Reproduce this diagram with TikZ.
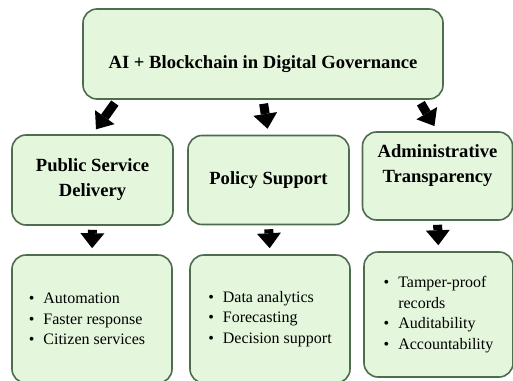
\documentclass[tikz,border=0pt]{standalone}
\usepackage{fontspec}
\setmainfont{Liberation Serif}
\usetikzlibrary{arrows.meta}
\definecolor{boxfill}{RGB}{228,246,220}
\definecolor{boxline}{RGB}{78,108,78}
\tikzset{govbox/.style={draw=boxline, fill=boxfill, line width=1.6pt, rounded corners=14pt, align=center, inner sep=0pt},
  headbox/.style={govbox, font=\bfseries\fontsize{18.6}{25}\selectfont},
  listbox/.style={govbox, align=left, font=\fontsize{16}{20.5}\selectfont},
  blockarrow/.style={line width=9pt, -{Triangle[width=24pt,length=15pt,line width=0pt]}, shorten <=4pt, shorten >=6pt}}
\newcommand{\itm}{\textbullet\hspace{9pt}}
\begin{document}
\begin{tikzpicture}[x=1pt,y=-1pt]
\useasboundingbox (0,0) rectangle (513,380);
\clip (0,0) rectangle (513,380);
\node[headbox, minimum width=360pt, minimum height=90pt, text height=33pt, text depth=4pt] (gov) at (263,54) {AI + Blockchain in Digital Governance};
\node[headbox, minimum width=161pt, minimum height=90pt] (public) at (92.5,180) {Public Service\\Delivery};
\node[headbox, minimum width=161pt, minimum height=89pt] (policy) at (268.5,180) {Policy Support};
\node[headbox, minimum width=150pt, minimum height=88pt] (admin) at (437.5,176) {Administrative\\Transparency\\\mbox{}};
\node[listbox, minimum width=160pt, minimum height=128pt] (pubitems) at (92,319) {\itm Automation\\\itm Faster response\\\itm Citizen services\hspace*{10pt}};
\node[listbox, minimum width=160pt, minimum height=128pt] (polyitems) at (270,319) {\itm Data analytics\\\itm Forecasting\\\itm Decision support};
\node[listbox, minimum width=149pt, minimum height=125pt] (admitems) at (438.5,314.5) {\itm Tamper-proof\\\hphantom{\itm}records\\\itm Auditability\\\itm Accountability};
\draw[blockarrow] ([xshift=35pt]gov.south west) -- (public.north);
\draw[blockarrow] (gov.south) -- (policy.north);
\draw[blockarrow] ([xshift=-25pt]gov.south east) -- (admin.north);
\draw[blockarrow] (public.south) -- (pubitems.north);
\draw[blockarrow] (policy.south) -- (polyitems.north);
\draw[blockarrow] (admin.south) -- (admitems.north);
\end{tikzpicture}
\end{document}
